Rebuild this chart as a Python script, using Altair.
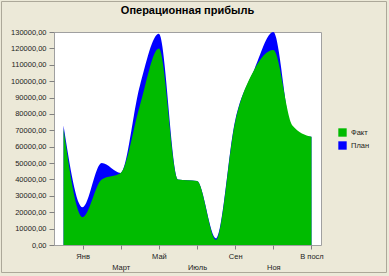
import altair as alt
import pandas as pd

months = ["Пред", "Янв", "Фев", "Март", "Апр", "Май", "Июнь", "Июль",
          "Авг", "Сен", "Окт", "Ноя", "Дек", "В посл"]
fact = [71000, 17000, 40000, 44000, 85000, 120000, 40000, 39000,
        3000, 75000, 107000, 119000, 73000, 66000]
plan = [73000, 23000, 50000, 44000, 97000, 129000, 40000, 39000,
        4000, 76000, 107000, 130000, 69000, 66000]
tick_labels = ["Янв", "Март", "Май", "Июль", "Сен", "Ноя", "В посл"]
lower_row = ["Март", "Июль", "Ноя"]
y_ticks = list(range(0, 130001, 10000))

df = pd.DataFrame(
    [{"Месяц": m, "Значение": v, "Серия": "План"} for m, v in zip(months, plan)]
    + [{"Месяц": m, "Значение": v, "Серия": "Факт"} for m, v in zip(months, fact)]
)

FONT = "Liberation Sans"

x_enc = alt.X(
    "Месяц:N",
    sort=months,
    scale=alt.Scale(type="point", padding=0.5),
    axis=alt.Axis(
        title=None,
        values=tick_labels,
        labelExpr="indexof(" + str(lower_row) + ", datum.value) >= 0 ? ['', datum.label] : datum.label",
        labelAngle=0,
        labelBaseline="top",
        labelLineHeight=11,
        labelFontSize=7.5,
        labelFont=FONT,
        labelColor="#222222",
        tickSize=4,
        tickColor="#808080",
        labelPadding=3,
        domain=False,
        grid=False,
        labelOverlap=False,
    ),
)
y_enc = alt.Y(
    "Значение:Q",
    scale=alt.Scale(domain=[0, 130000], nice=False),
    axis=alt.Axis(
        title=None,
        values=y_ticks,
        labelExpr="replace(format(datum.value, '.2f'), '.', ',')",
        labelFontSize=7.5,
        labelFont=FONT,
        labelColor="#222222",
        tickSize=5,
        tickColor="#808080",
        labelPadding=3,
        domain=False,
        grid=False,
    ),
)
color_enc = alt.Color(
    "Серия:N",
    scale=alt.Scale(domain=["Факт", "План"], range=["#00BB00", "#0000FF"]),
    legend=alt.Legend(
        title=None,
        orient="none",
        legendX=284,
        legendY=96,
        symbolType="square",
        symbolSize=70,
        symbolStrokeWidth=0,
        labelFontSize=7.5,
        labelFont=FONT,
        labelColor="#222222",
        labelOffset=4,
        rowPadding=4,
    ),
)

base = alt.Chart(df)
plan_area = base.transform_filter(alt.datum["Серия"] == "План").mark_area(
    interpolate="monotone", opacity=1
).encode(x=x_enc, y=y_enc, color=color_enc)
fact_area = base.transform_filter(alt.datum["Серия"] == "Факт").mark_area(
    interpolate="monotone", opacity=1
).encode(x=x_enc, y=y_enc, color=color_enc)

# outer panel frame (decoration)
frame = alt.Chart(pd.DataFrame({"f": [0]})).mark_rect(
    fill=None, stroke="#ACA899", strokeWidth=1, clip=False
).encode(
    x=alt.value(-52.5), x2=alt.value(332.5),
    y=alt.value(-30.5), y2=alt.value(240.5),
)

chart = alt.layer(plan_area, fact_area, frame).properties(
    width=267,
    height=213,
    padding={"left": 54, "top": 32, "right": 68, "bottom": 31},
    autosize=alt.AutoSizeParams(type="none"),
    background="#ECE9D8",
    title=alt.TitleParams(
        "Операционная прибыль",
        fontSize=11,
        font=FONT,
        fontWeight="bold",
        color="#000000",
        anchor="middle",
        frame="group",
        offset=-14.5,
    ),
).configure_view(fill="white", stroke="#A0A0A0", strokeWidth=1)

chart.save("out.html", embed_options={"renderer": "svg", "actions": False})
